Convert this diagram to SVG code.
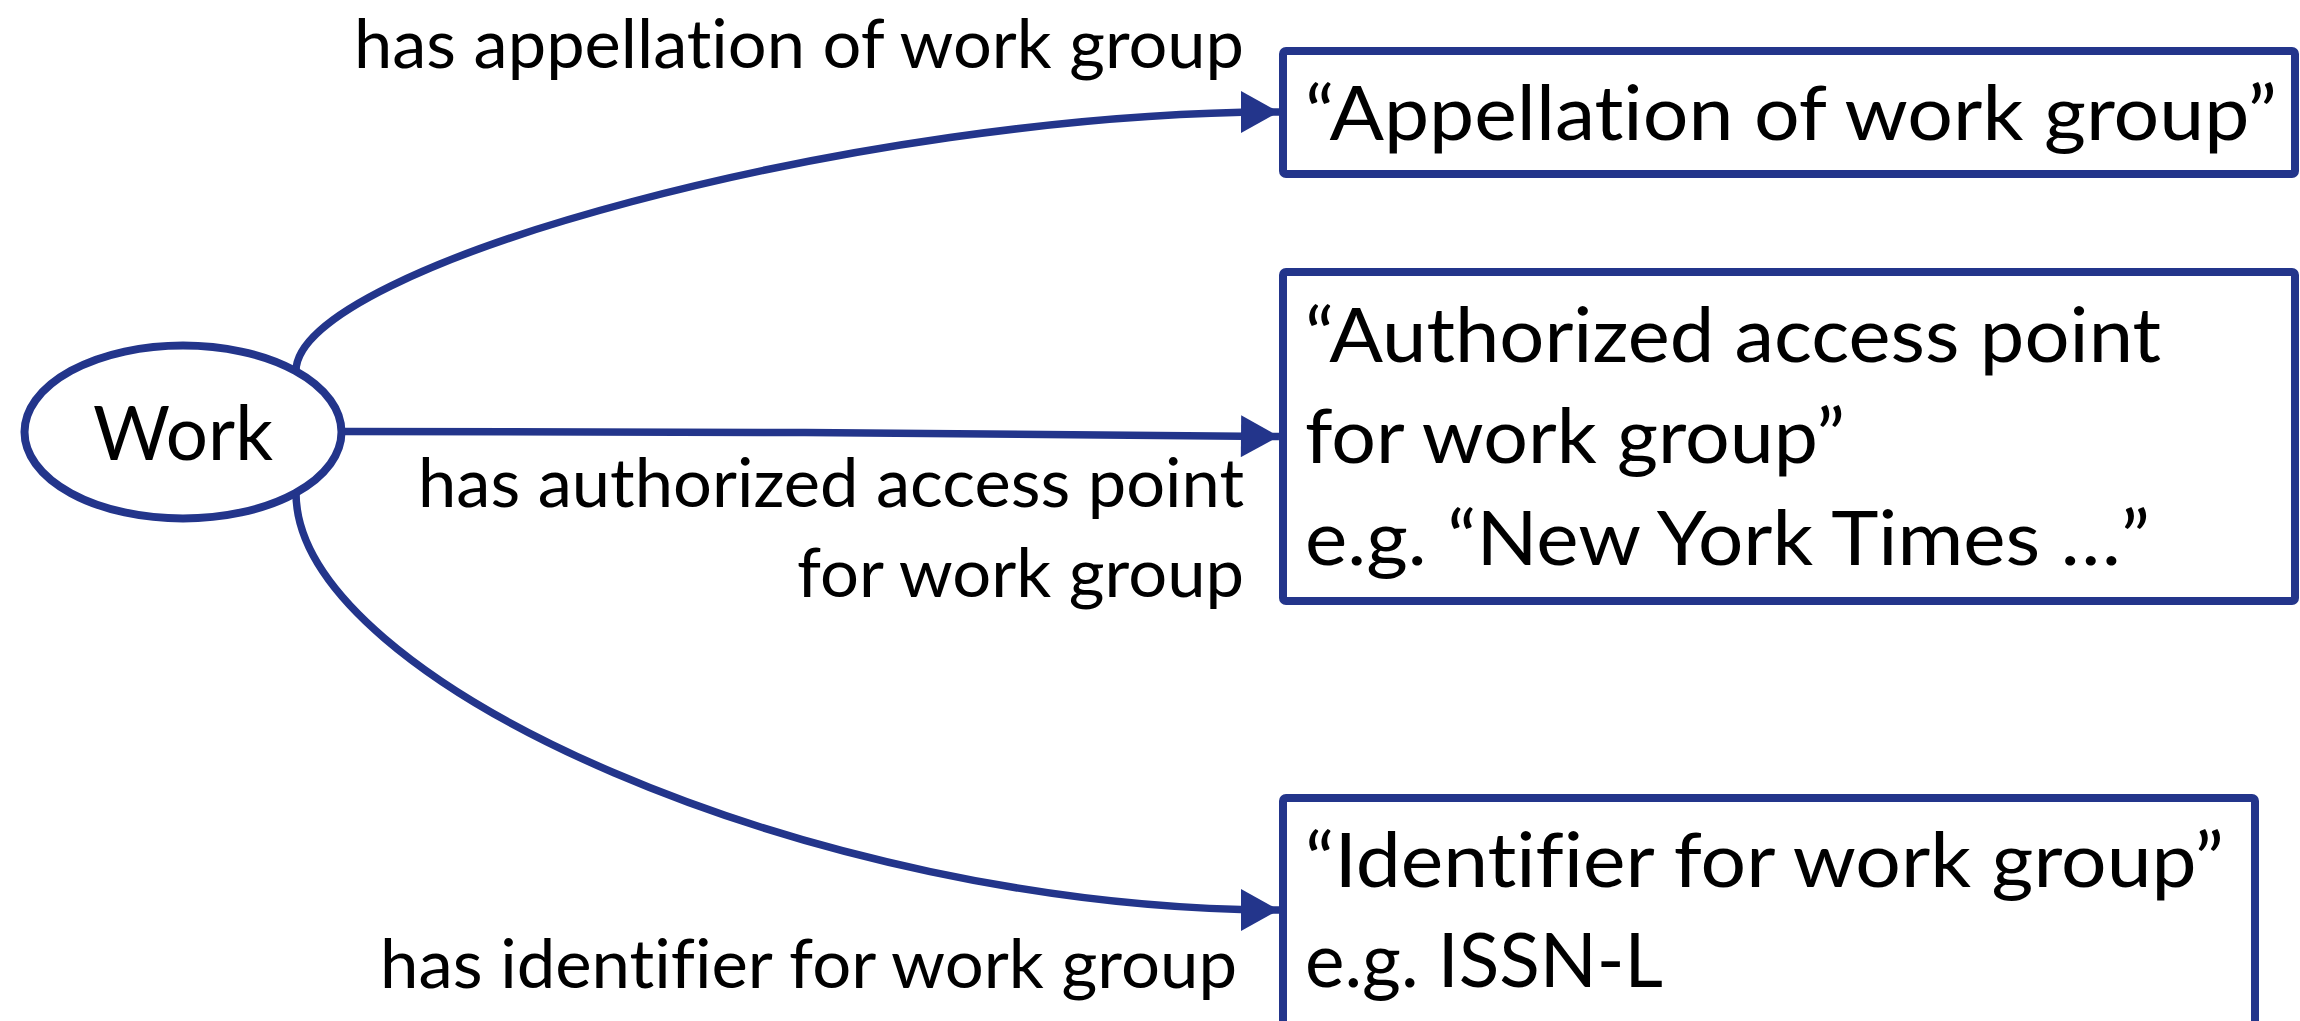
<svg xmlns="http://www.w3.org/2000/svg" width="2300" height="1021" viewBox="0 0 2300 1021">
<style>
.edge{fill:none;stroke:#23358B;stroke-width:7.5}
.node{fill:#FFFFFF;stroke:#23358B;stroke-width:8}
.t{font-family:Lato,"Open Sans","Liberation Sans",sans-serif;fill:#000000;font-variant-ligatures:none}
.lbl{font-size:67px}
.bx{font-size:75px}
</style>
<defs>
<marker id="arr" markerUnits="userSpaceOnUse" markerWidth="40" markerHeight="42" viewBox="0 0 38 42" refX="38" refY="21" orient="auto">
<path d="M0,0 L38,21 L0,42 Z" fill="#23358B"/>
</marker>
</defs>
<rect width="2300" height="1021" fill="#FFFFFF"/>
<g id="connectors">
<path class="edge" d="M296,371 C296,265 863,112 1279,112" marker-end="url(#arr)"/>
<path class="edge" d="M345,431.5 L805,432.5 L1279,436.5" marker-end="url(#arr)"/>
<path class="edge" d="M296,493 C296,683 816,910 1279,910" marker-end="url(#arr)"/>
<text class="t lbl" x="354" y="68" textLength="890" lengthAdjust="spacingAndGlyphs">has appellation of work group</text>
<text class="t lbl" x="418" y="507" textLength="826" lengthAdjust="spacingAndGlyphs">has authorized access point</text>
<text class="t lbl" x="797" y="597" textLength="447" lengthAdjust="spacingAndGlyphs">for work group</text>
<text class="t lbl" x="380" y="988" textLength="857" lengthAdjust="spacingAndGlyphs">has identifier for work group</text>
</g>
<g id="work">
<ellipse class="node" cx="183" cy="432" rx="158.5" ry="86.5" stroke-width="7"/>
<text class="t" x="93" y="460" font-size="76" textLength="180" lengthAdjust="spacingAndGlyphs">Work</text>
</g>
<g id="appellation">
<rect class="node" x="1283" y="51" width="1012" height="123" rx="3"/>
<text class="t bx" x="1305" y="140" textLength="972" lengthAdjust="spacingAndGlyphs">“Appellation of work group”</text>
</g>
<g id="authorized-access-point">
<rect class="node" x="1283" y="272" width="1012" height="329" rx="3"/>
<text class="t bx" x="1305" y="362" textLength="856" lengthAdjust="spacingAndGlyphs">“Authorized access point</text>
<text class="t bx" x="1305" y="463" textLength="540" lengthAdjust="spacingAndGlyphs">for work group”</text>
<text class="t bx" x="1305" y="565" textLength="845" lengthAdjust="spacingAndGlyphs">e.g. “New York Times …”</text>
</g>
<g id="identifier">
<rect class="node" x="1283" y="798" width="972" height="240" rx="3"/>
<text class="t bx" x="1305" y="887" textLength="919" lengthAdjust="spacingAndGlyphs">“Identifier for work group”</text>
<text class="t bx" x="1305" y="987" textLength="358" lengthAdjust="spacingAndGlyphs">e.g. ISSN-L</text>
</g>
</svg>
